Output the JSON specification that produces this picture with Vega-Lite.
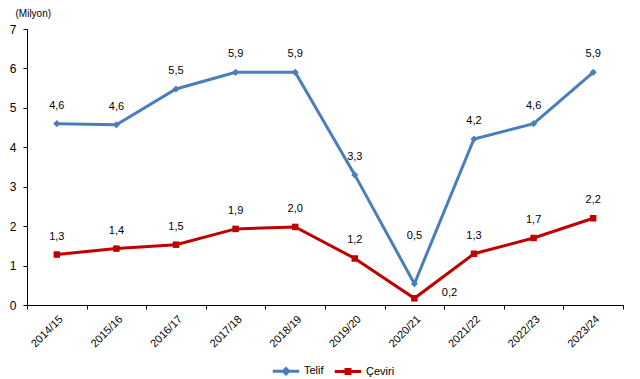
{
  "$schema": "https://vega.github.io/schema/vega-lite/v6.json",
  "width": 596,
  "height": 276,
  "autosize": {"type": "none"},
  "padding": {"left": 27, "top": 29, "right": 17, "bottom": 74},
  "background": "white",
  "config": {
    "locale": {"number": {"decimal": ",", "thousands": ".", "grouping": [3], "currency": ["", " TL"]}},
    "font": "Liberation Sans",
    "view": {"stroke": null},
    "axis": {"labelFont": "Liberation Sans", "labelFontSize": 11, "labelColor": "black", "domainColor": "black", "tickColor": "black", "grid": false}
  },
  "data": {
    "values": [
      {"yil": "2014/15", "seri": "Telif", "deger": 4.6},
      {"yil": "2015/16", "seri": "Telif", "deger": 4.57},
      {"yil": "2016/17", "seri": "Telif", "deger": 5.48},
      {"yil": "2017/18", "seri": "Telif", "deger": 5.9},
      {"yil": "2018/19", "seri": "Telif", "deger": 5.9},
      {"yil": "2019/20", "seri": "Telif", "deger": 3.3},
      {"yil": "2020/21", "seri": "Telif", "deger": 0.54},
      {"yil": "2021/22", "seri": "Telif", "deger": 4.21},
      {"yil": "2022/23", "seri": "Telif", "deger": 4.6},
      {"yil": "2023/24", "seri": "Telif", "deger": 5.9},
      {"yil": "2014/15", "seri": "Çeviri", "deger": 1.28},
      {"yil": "2015/16", "seri": "Çeviri", "deger": 1.43},
      {"yil": "2016/17", "seri": "Çeviri", "deger": 1.53},
      {"yil": "2017/18", "seri": "Çeviri", "deger": 1.93},
      {"yil": "2018/19", "seri": "Çeviri", "deger": 1.98},
      {"yil": "2019/20", "seri": "Çeviri", "deger": 1.18},
      {"yil": "2020/21", "seri": "Çeviri", "deger": 0.17},
      {"yil": "2021/22", "seri": "Çeviri", "deger": 1.3},
      {"yil": "2022/23", "seri": "Çeviri", "deger": 1.7},
      {"yil": "2023/24", "seri": "Çeviri", "deger": 2.2}
    ]
  },
  "encoding": {
    "x": {
      "field": "yil", "type": "nominal", "sort": null,
      "scale": {"type": "band", "paddingInner": 0, "paddingOuter": 0},
      "axis": {"title": null, "labelAngle": -45, "tickBand": "extent", "tickSize": 4, "labelPadding": 4}
    },
    "y": {
      "field": "deger", "type": "quantitative",
      "scale": {"domain": [0, 7], "nice": false},
      "axis": {"values": [0, 1, 2, 3, 4, 5, 6, 7], "tickSize": 4, "labelPadding": 7, "labelFontSize": 12, "format": "d",
        "title": "(Milyon)", "titleAngle": 0, "titleAlign": "left", "titleBaseline": "middle",
        "titleX": -12, "titleY": -16, "titleFontSize": 10, "titleFontWeight": "normal", "titleFont": "Liberation Sans", "titleColor": "black"}
    }
  },
  "layer": [
    {
      "mark": {"type": "line", "strokeWidth": 3},
      "encoding": {
        "color": {
          "field": "seri", "type": "nominal",
          "scale": {"domain": ["Telif", "Çeviri"], "range": ["#4A7EBB", "#C00000"]},
          "legend": {
            "title": null, "orient": "none", "direction": "horizontal",
            "legendX": 244, "legendY": 327,
            "symbolSize": 700, "symbolStrokeWidth": 3,
            "labelFontSize": 11, "labelFont": "Liberation Sans", "labelColor": "black", "labelOffset": 3, "columnPadding": 4,
            "encode": {
              "symbols": {
                "update": {
                  "shape": {"signal": "datum.value === 'Telif' ? 'M-1,0H1M0,-0.2L0.2,0L0,0.2L-0.2,0Z' : 'M-1,0H1M-0.15,-0.15H0.15V0.15H-0.15Z'"},
                  "fill": {"signal": "datum.value === 'Telif' ? '#4A7EBB' : '#C00000'"}
                }
              }
            }
          }
        }
      }
    },
    {
      "transform": [{"filter": "datum.seri === 'Telif'"}],
      "mark": {"type": "point", "filled": true, "opacity": 1, "shape": "diamond", "size": 50, "color": "#4A7EBB"},
      "encoding": {}
    },
    {
      "transform": [{"filter": "datum.seri === 'Çeviri'"}],
      "mark": {"type": "point", "filled": true, "opacity": 1, "shape": "square", "size": 42, "color": "#C00000"},
      "encoding": {}
    },
    {
      "transform": [{"filter": "datum.yil !== '2020/21'"}],
      "mark": {"type": "text", "dy": -18, "fontSize": 11, "color": "black", "baseline": "middle"},
      "encoding": {"text": {"field": "deger", "type": "quantitative", "format": ".1f"}}
    },
    {
      "transform": [{"filter": "datum.yil === '2020/21' && datum.seri === 'Telif'"}],
      "mark": {"type": "text", "dy": -48, "fontSize": 11, "color": "black", "baseline": "middle"},
      "encoding": {"text": {"field": "deger", "type": "quantitative", "format": ".1f"}}
    },
    {
      "transform": [{"filter": "datum.yil === '2020/21' && datum.seri === 'Çeviri'"}],
      "mark": {"type": "text", "dx": 35, "dy": -5, "fontSize": 11, "color": "black", "baseline": "middle"},
      "encoding": {"text": {"field": "deger", "type": "quantitative", "format": ".1f"}}
    }
  ]
}
